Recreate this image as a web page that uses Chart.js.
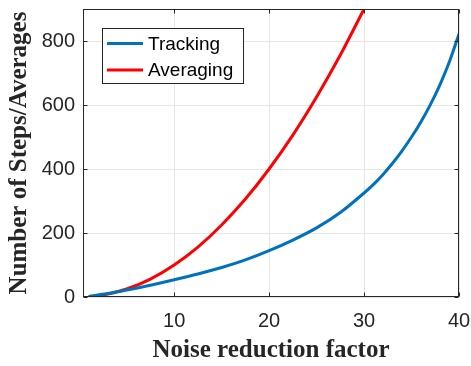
<!DOCTYPE html>
<html><head><meta charset="utf-8">
<script src="https://cdn.jsdelivr.net/npm/chart.js@4"></script>
<style>html,body{margin:0;padding:0;background:#fff}</style>
</head><body>
<canvas id="c" width="471" height="366" style="width:471px;height:366px;display:block"></canvas>
<script>
// ---- data ----
const trackingX = [1, 3, 5, 7.5, 10, 12.5, 15, 17.5, 20, 22.5, 25, 27.5, 30, 31, 32, 33, 34, 35, 36, 37, 38, 39, 40];
const trackingY = [2, 11, 22, 37, 54, 72, 92, 116, 145, 178, 216, 264, 325, 352, 383, 418, 457, 500, 548, 602, 664, 736, 822];
const averagingX = [1, 2.5, 5, 7.5, 10, 12.5, 15, 17.5, 20, 22.5, 25, 27.5, 30];
const averagingY = [1, 6, 25, 56, 100, 156, 225, 306, 400, 506, 625, 756, 900];
const xTicks = [10, 20, 30, 40];
const yTicks = [0, 200, 400, 600, 800];
const seriesNames = ['Tracking', 'Averaging'];
const xTitle = 'Noise reduction factor';
const yTitle = 'Number of Steps/Averages';

const toPts = (xs, ys) => xs.map((x, i) => ({x: x, y: ys[i]}));
const TXT = '#262626';

const boxPlugin = {
  id: 'boxPlugin',
  afterDatasetsDraw(chart) {
    const ctx = chart.ctx, a = chart.chartArea;
    const xs = chart.scales.x, ys = chart.scales.y;
    ctx.save();
    ctx.strokeStyle = TXT; ctx.lineWidth = 1;
    const L = Math.round(a.left) + 0.5, R = Math.round(a.right) - 0.5;
    const T = Math.round(a.top) + 0.5, B = Math.round(a.bottom) - 0.5;
    ctx.strokeRect(L, T, R - L, B - T);
    const tl = 4;
    ctx.beginPath();
    xTicks.forEach(v => {
      const p = Math.round(xs.getPixelForValue(v)) + 0.5;
      ctx.moveTo(p, B); ctx.lineTo(p, B - tl);
      ctx.moveTo(p, T); ctx.lineTo(p, T + tl);
    });
    yTicks.forEach(v => {
      const p = Math.round(ys.getPixelForValue(v)) + 0.5;
      ctx.moveTo(L, p); ctx.lineTo(L + tl, p);
      ctx.moveTo(R, p); ctx.lineTo(R - tl, p);
    });
    ctx.stroke();
    // legend
    const lx = 102.5, ly = 28.5, lw = 141, lh = 55;
    ctx.fillStyle = '#fff';
    ctx.fillRect(lx, ly, lw, lh);
    ctx.strokeStyle = TXT;
    ctx.strokeRect(lx, ly, lw, lh);
    const rows = [43.5, 70];
    chart.data.datasets.forEach((ds, i) => {
      ctx.strokeStyle = ds.borderColor; ctx.lineWidth = 3;
      ctx.beginPath(); ctx.moveTo(107, rows[i]); ctx.lineTo(143, rows[i]); ctx.stroke();
      ctx.fillStyle = '#000';
      ctx.font = '19px "Liberation Sans", Arial, sans-serif';
      ctx.textBaseline = 'middle'; ctx.textAlign = 'left';
      ctx.fillText(ds.label, 148, rows[i] + 1);
    });
    ctx.restore();
  }
};

new Chart(document.getElementById('c'), {
  type: 'line',
  data: {
    datasets: [
      {label: seriesNames[0], data: toPts(trackingX, trackingY), borderColor: '#0072BD', borderWidth: 3, pointRadius: 0, cubicInterpolationMode: 'monotone', fill: false},
      {label: seriesNames[1], data: toPts(averagingX, averagingY), borderColor: '#FF0000', borderWidth: 3, pointRadius: 0, cubicInterpolationMode: 'monotone', fill: false}
    ]
  },
  options: {
    responsive: false,
    devicePixelRatio: 1,
    animation: false,
    layout: {padding: {top: 9, right: 12, left: 0, bottom: 0}},
    plugins: {legend: {display: false}, tooltip: {enabled: false}},
    scales: {
      x: {
        type: 'linear', min: 0.4, max: 40,
        afterBuildTicks: s => { s.ticks = xTicks.map(v => ({value: v})); },
        afterFit: s => { s.height = 69; s.paddingLeft = 0; s.paddingRight = 0; },
        grid: {color: '#e6e6e6', drawTicks: false, lineWidth: 1},
        border: {display: false},
        ticks: {color: TXT, padding: 12, font: {family: '"Liberation Sans", Arial, sans-serif', size: 20}, maxRotation: 0, autoSkip: false},
        title: {display: true, text: xTitle, color: TXT, padding: {top: 1, bottom: 0}, font: {family: '"Liberation Serif", "Times New Roman", serif', size: 25, weight: 'bold'}}
      },
      y: {
        min: 0, max: 900,
        afterBuildTicks: s => { s.ticks = yTicks.map(v => ({value: v})); },
        afterFit: s => { s.width = 83; s.paddingTop = 0; s.paddingBottom = 0; },
        grid: {color: '#e6e6e6', drawTicks: false, lineWidth: 1},
        border: {display: false},
        ticks: {color: TXT, padding: 8, font: {family: '"Liberation Sans", Arial, sans-serif', size: 20}},
        title: {display: true, text: yTitle, color: TXT, padding: {top: 5, bottom: 0}, font: {family: '"Liberation Serif", "Times New Roman", serif', size: 25, weight: 'bold'}}
      }
    }
  },
  plugins: [boxPlugin]
});
</script>
</body></html>
